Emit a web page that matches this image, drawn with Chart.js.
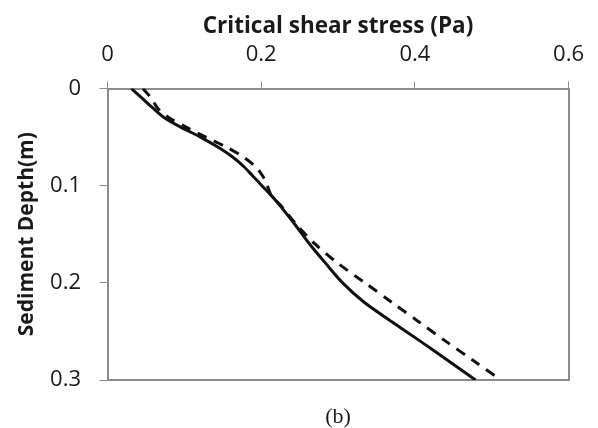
<!DOCTYPE html>
<html>
<head>
<meta charset="utf-8">
<script src="https://cdn.jsdelivr.net/npm/chart.js@4"></script>
<style>
  html, body { margin: 0; padding: 0; background: #fff; }
  #wrap { width: 598px; height: 428px; }
</style>
</head>
<body>
<div id="wrap"><canvas id="chart" width="598" height="428"></canvas></div>
<script>
// sediment depth (m) shared by both profiles
const depth = [0, 0.01, 0.02, 0.03, 0.04, 0.05, 0.06, 0.07, 0.08, 0.09, 0.10, 0.11,
  0.12, 0.14, 0.16, 0.18, 0.20, 0.22, 0.24, 0.26, 0.28, 0.30];
// critical shear stress (Pa), solid curve
const shearSolid = [0.031, 0.045, 0.059, 0.074, 0.096, 0.121, 0.143, 0.162, 0.177, 0.189, 0.201, 0.213,
  0.224, 0.244, 0.263, 0.284, 0.306, 0.334, 0.370, 0.407, 0.443, 0.479];
// critical shear stress (Pa), dashed curve
const shearDashed = [0.046, 0.057, 0.065, 0.080, 0.103, 0.128, 0.154, 0.176, 0.192, 0.202, 0.208, 0.213,
  0.225, 0.246, 0.270, 0.300, 0.335, 0.370, 0.405, 0.440, 0.476, 0.512];
const xTicks = [0, 0.2, 0.4, 0.6];
const yTicks = [0, 0.1, 0.2, 0.3];

const toPoints = vals => vals.map((v, i) => ({ x: v, y: depth[i] }));
const axisGray = '#8c8c8c';
const textColor = '#1a1a1a';
const tickFont = { family: 'Open Sans', size: 22 };

new Chart(document.getElementById('chart').getContext('2d'), {
  type: 'scatter',
  data: {
    datasets: [
      {
        data: toPoints(shearSolid),
        showLine: true,
        borderColor: '#111',
        borderWidth: 3,
        pointRadius: 0,
        tension: 0.3
      },
      {
        data: toPoints(shearDashed),
        showLine: true,
        borderColor: '#111',
        borderWidth: 3,
        borderDash: [10, 8],
        pointRadius: 0,
        tension: 0.3
      }
    ]
  },
  options: {
    responsive: false,
    animation: false,
    layout: { padding: { left: 16.5, right: 26.3, top: 12, bottom: 0 } },
    plugins: {
      legend: { display: false },
      tooltip: { enabled: false }
    },
    scales: {
      x: {
        type: 'linear',
        position: 'top',
        min: 0,
        max: 0.6,
        afterBuildTicks: s => { s.ticks = xTicks.map(v => ({ value: v })); },
        afterFit: s => { s.height = 76.5; },
        ticks: { color: textColor, font: tickFont, padding: 14, callback: v => String(v) },
        grid: { display: true, drawOnChartArea: false, color: axisGray, tickLength: 7 },
        border: { color: axisGray, width: 2 },
        title: {
          display: true,
          text: 'Critical shear stress (Pa)',
          color: textColor,
          font: { family: 'Open Sans', size: 22.5, weight: 'bold', lineHeight: 1 },
          padding: { top: 3, bottom: 6 }
        }
      },
      x2: {
        type: 'linear',
        position: 'bottom',
        min: 0,
        max: 0.6,
        ticks: { display: false },
        grid: { display: false, drawTicks: false, tickLength: 0 },
        border: { color: axisGray, width: 2 },
        title: {
          display: true,
          text: '(b)',
          color: textColor,
          font: { family: 'Liberation Serif', size: 22, weight: 'normal', lineHeight: 1 },
          padding: { top: 26, bottom: 0 }
        }
      },
      y: {
        type: 'linear',
        reverse: true,
        min: 0,
        max: 0.3,
        afterBuildTicks: s => { s.ticks = yTicks.map(v => ({ value: v })); },
        afterFit: s => { s.width = 91; },
        ticks: { color: textColor, font: tickFont, padding: 18.5, callback: v => String(v) },
        grid: { display: true, drawOnChartArea: false, color: axisGray, tickLength: 8 },
        border: { color: axisGray, width: 2 },
        title: {
          display: true,
          text: 'Sediment Depth(m)',
          color: textColor,
          font: { family: 'Open Sans', size: 21, weight: 'bold', lineHeight: 1 },
          padding: { top: 0, bottom: 15 }
        }
      },
      y2: {
        type: 'linear',
        position: 'right',
        reverse: true,
        min: 0,
        max: 0.3,
        ticks: { display: false },
        grid: { display: false, drawTicks: false, tickLength: 0 },
        border: { color: axisGray, width: 2 },
        afterFit: s => { s.width = 0; }
      }
    }
  }
});
</script>
</body>
</html>
